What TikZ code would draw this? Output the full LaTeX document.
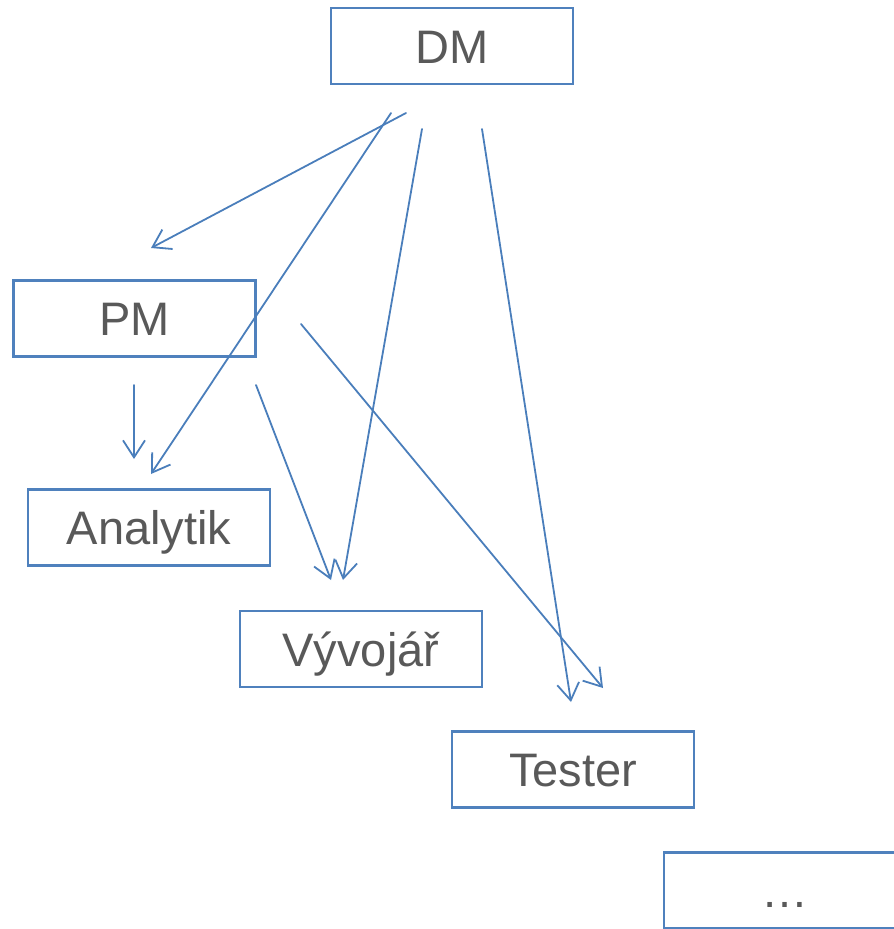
\documentclass[tikz,border=0pt]{standalone}
\usepackage{fontspec}
\setmainfont{Liberation Sans}
\usetikzlibrary{arrows.meta}
\definecolor{boxblue}{HTML}{4F81BD}
\definecolor{linkblue}{HTML}{4A7EBB}
\definecolor{labelgray}{HTML}{595959}
\tikzset{
  rolebox/.style={draw=boxblue, line width=2.5pt, fill=white,
    minimum width=242pt, minimum height=76pt, inner sep=0pt,
    text height=34pt, text depth=0pt, text=labelgray,
    font=\fontsize{47}{56}\selectfont},
  link/.style={draw=linkblue, line width=1.8pt, line cap=round,
    -{Straight Barb[length=17pt,width=22pt,line width=1.8pt]}},
}
\begin{document}
\begin{tikzpicture}[x=1pt,y=-1pt]
  \useasboundingbox (0,0) rectangle (894,929);
  \clip (0,0) rectangle (894,929);

  % role boxes
  \node[rolebox] (dm)  at (452,46)  {DM};
  \node[rolebox] (pm)  at (134.5,318.5) {PM};
  \node[rolebox] (an)  at (149,527.5) {Analytik};
  \node[rolebox] (dev) at (361,649) {Vývojář};
  \node[rolebox] (tst) at (573,769.5) {Tester};
  \node[rolebox] (etc) at (785,890.5) {…};

  % free ends of the links
  \coordinate (dmA) at (406,113);
  \coordinate (dmB) at (391,113);
  \coordinate (dmC) at (422,129);
  \coordinate (dmD) at (482,129);
  \coordinate (pmA) at (134,385);
  \coordinate (pmB) at (256,385);
  \coordinate (pmC) at (301,324);

  \coordinate (toPM)  at (151,248);
  \coordinate (toAn1) at (151,474);
  \coordinate (toAn2) at (134,459);
  \coordinate (toDev1) at (343,580);
  \coordinate (toDev2) at (331,580);
  \coordinate (toTst1) at (571,702);
  \coordinate (toTst2) at (603,688);

  % links from DM
  \draw[link] (dmA) -- (toPM);
  \draw[link] (dmB) -- (toAn1);
  \draw[link] (dmC) -- (toDev1);
  \draw[link] (dmD) -- (toTst1);

  % links from PM
  \draw[link] (pmA) -- (toAn2);
  \draw[link] (pmB) -- (toDev2);
  \draw[link] (pmC) -- (toTst2);
\end{tikzpicture}
\end{document}
